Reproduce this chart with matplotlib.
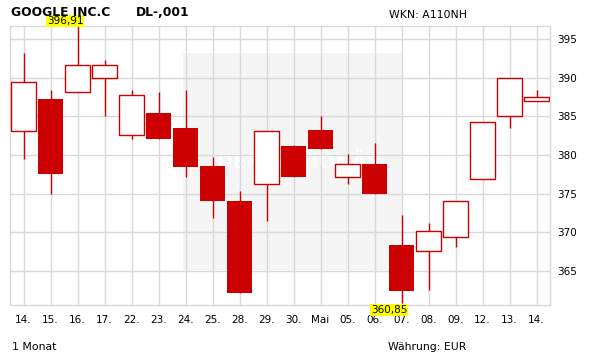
"""
Daily candlestick chart, GOOGLE INC.C DL-,001, 1 month (EUR).
Saves out.png
"""

import matplotlib
matplotlib.use("Agg")
import matplotlib.pyplot as plt
from matplotlib.transforms import blended_transform_factory


# ──────────────────────────────────────────────
#  Data
# ──────────────────────────────────────────────
dates  = ["14.", "15.", "16.", "17.", "22.", "23.", "24.", "25.", "28.", "29.",
          "30.", "Mai", "05.", "06.", "07.", "08.", "09.", "12.", "13.", "14."]
opens  = [383.1, 387.2, 388.2, 390.0, 382.6, 385.5, 383.5, 378.6, 374.0, 376.2,
          381.2, 383.2, 377.1, 378.85, 368.3, 367.6, 369.4, 376.9, 385.1, 387.0]
highs  = [393.2, 388.4, 396.91, 392.3, 388.4, 388.1, 388.4, 379.8, 375.3, 383.1,
          381.3, 385.1, 380.2, 381.6, 372.3, 371.2, 374.0, 384.3, 390.0, 388.45]
lows   = [379.5, 375.0, 388.2, 385.0, 382.1, 382.1, 377.2, 371.9, 362.1, 371.5,
          377.1, 380.8, 376.3, 375.0, 360.85, 362.5, 368.1, 376.9, 383.5, 387.0]
closes = [389.5, 377.5, 391.6, 391.7, 387.8, 382.1, 378.4, 374.1, 362.1, 383.1,
          377.1, 380.8, 378.9, 375.0, 362.4, 370.2, 374.0, 384.3, 390.0, 387.5]
y_ticks = [365, 370, 375, 380, 385, 390, 395]

RED  = "#cc0000"
GRID = "#d9d9d9"
W, H = 611, 364

fig = plt.figure(figsize=(W / 100, H / 100), dpi=100)
fig.patch.set_facecolor("white")

# plot area in pixels: left 10, right 550, top 26, bottom 305
ax = fig.add_axes([10 / W, (H - 305) / H, 540 / W, 279 / H])
ax.set_xlim(-0.5, 19.5)
ax.set_ylim(360.6, 396.7)

# light grey watermark block with faint text
ax.add_patch(plt.Rectangle((0.321, 0.125), 0.404, 0.778, transform=ax.transAxes,
                           facecolor="#f5f5f5", edgecolor="none", zorder=0))
ax.text(0.535, 0.51, "DER AKTIONÄR", transform=ax.transAxes, ha="center",
        va="center", fontsize=14, fontweight="bold", color="white", zorder=0.5)

# grid
ax.set_xticks(range(len(dates)))
ax.set_xticklabels(dates)
ax.set_yticks(y_ticks)
ax.set_yticklabels([str(t) for t in y_ticks])
ax.grid(True, color=GRID, linewidth=1.0, zorder=1)
ax.set_axisbelow(True)
for s in ax.spines.values():
    s.set_color(GRID)
    s.set_linewidth(1.0)

ax.yaxis.tick_right()
ax.tick_params(axis="both", length=0, labelsize=7.5, colors="black")
ax.tick_params(axis="x", pad=7)
ax.tick_params(axis="y", pad=5)

# candles
for i in range(len(dates)):
    o, h, l, c = opens[i], highs[i], lows[i], closes[i]
    ax.vlines(i, l, h, color=RED, linewidth=1.0, zorder=2)
    bottom = min(o, c)
    height = max(abs(c - o), 0.05)
    if c >= o:
        ax.bar(i, height, bottom=bottom, width=0.9, facecolor="white",
               edgecolor=RED, linewidth=1.0, zorder=3)
    else:
        ax.bar(i, height, bottom=bottom, width=0.95, facecolor=RED,
               edgecolor="none", zorder=3)

# high / low markers in yellow boxes
trans = blended_transform_factory(ax.transData, ax.transAxes)
i_hi = highs.index(max(highs))
i_lo = lows.index(min(lows))
ax.text(i_hi + 0.22, 1.0, f"{highs[i_hi]:.2f}".replace(".", ","), transform=trans,
        ha="right", va="bottom", fontsize=7.5, clip_on=False, zorder=5,
        bbox=dict(boxstyle="square,pad=0.1", facecolor="#ffff00", edgecolor="none"))
ax.text(i_lo + 0.22, 0.0, f"{lows[i_lo]:.2f}".replace(".", ","), transform=trans,
        ha="right", va="top", fontsize=7.5, clip_on=False, zorder=5,
        bbox=dict(boxstyle="square,pad=0.1", facecolor="#ffff00", edgecolor="none"))

# header / footer texts
fig.text(11 / W, 1 - 12.5 / H, "GOOGLE INC.C", fontsize=8.8, fontweight="bold", va="center")
fig.text(136 / W, 1 - 12.5 / H, "DL-,001", fontsize=8.8, fontweight="bold", va="center")
fig.text(389 / W, 1 - 14.5 / H, "WKN: A110NH", fontsize=7.8, va="center")
fig.text(12 / W, 1 - 347.5 / H, "1 Monat", fontsize=7.8, va="center")
fig.text(388 / W, 1 - 347.5 / H, "Währung: EUR", fontsize=7.8, va="center")

plt.savefig("out.png", dpi=100)
plt.close()
